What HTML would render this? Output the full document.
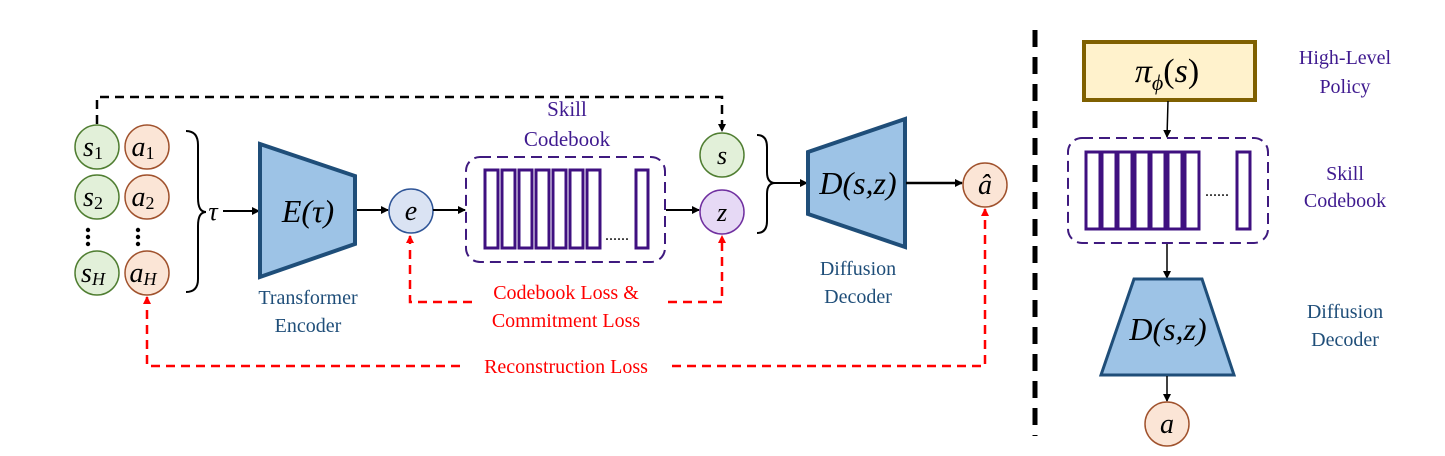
<!DOCTYPE html>
<html><head><meta charset="utf-8"><style>
body{margin:0;background:#fff}
svg text{font-family:"Liberation Serif",serif}
</style></head><body>
<svg width="1445" height="451" viewBox="0 0 1445 451" xmlns="http://www.w3.org/2000/svg">
<defs>
<marker id="ak" markerWidth="8" markerHeight="8" refX="7" refY="4" orient="auto" markerUnits="userSpaceOnUse"><path d="M0,0 L8,4 L0,8 z" fill="#000"/></marker>
<marker id="ar" markerWidth="8" markerHeight="8" refX="7" refY="4" orient="auto" markerUnits="userSpaceOnUse"><path d="M0,0 L8,4 L0,8 z" fill="#f00"/></marker>
</defs>
<!-- left circles -->
<g stroke-width="1.5">
<circle cx="97" cy="147" r="22" fill="#e2f0d9" stroke="#507e32"/>
<circle cx="147" cy="147" r="22" fill="#fbe5d6" stroke="#a0522d"/>
<circle cx="97" cy="197" r="22" fill="#e2f0d9" stroke="#507e32"/>
<circle cx="147" cy="197" r="22" fill="#fbe5d6" stroke="#a0522d"/>
<circle cx="97" cy="273" r="22" fill="#e2f0d9" stroke="#507e32"/>
<circle cx="147" cy="273" r="22" fill="#fbe5d6" stroke="#a0522d"/>
</g>
<g font-style="italic" font-size="28" text-anchor="middle">
<text x="93" y="156">s<tspan font-size="18" font-style="normal" dy="3">1</tspan></text>
<text x="143" y="156">a<tspan font-size="18" font-style="normal" dy="3">1</tspan></text>
<text x="93" y="206">s<tspan font-size="18" font-style="normal" dy="3">2</tspan></text>
<text x="143" y="206">a<tspan font-size="18" font-style="normal" dy="3">2</tspan></text>
<text x="93" y="282">s<tspan font-size="18" dy="3">H</tspan></text>
<text x="143" y="282">a<tspan font-size="18" dy="3">H</tspan></text>
</g>
<g fill="#000"><circle cx="88" cy="230" r="2.2"/><circle cx="88" cy="237" r="2.2"/><circle cx="88" cy="244" r="2.2"/>
<circle cx="138" cy="230" r="2.2"/><circle cx="138" cy="237" r="2.2"/><circle cx="138" cy="244" r="2.2"/></g>
<!-- brace -->
<path d="M186,131 Q198,131 198,145 L198,198 Q198,212 206,212 Q198,212 198,226 L198,279 Q198,292 186,292" fill="none" stroke="#000" stroke-width="2"/>
<text x="213" y="220" font-size="26" font-style="italic" text-anchor="middle">τ</text>
<line x1="223" y1="211" x2="259" y2="211" stroke="#000" stroke-width="2" marker-end="url(#ak)"/>
<!-- encoder -->
<polygon points="260,144 355,176 355,244 260,277" fill="#9dc3e6" stroke="#1f4e79" stroke-width="4"/>
<text x="308" y="222" font-size="32" font-style="italic" text-anchor="middle">E(τ)</text>
<text x="308" y="304" font-size="20" fill="#1f4e79" text-anchor="middle">Transformer</text>
<text x="308" y="332" font-size="20" fill="#1f4e79" text-anchor="middle">Encoder</text>
<line x1="357" y1="210" x2="388" y2="210" stroke="#000" stroke-width="2" marker-end="url(#ak)"/>
<circle cx="411" cy="211" r="22" fill="#dae3f3" stroke="#2f5597" stroke-width="1.5"/>
<text x="411" y="220" font-size="28" font-style="italic" text-anchor="middle">e</text>
<line x1="433" y1="210" x2="465" y2="210" stroke="#000" stroke-width="2" marker-end="url(#ak)"/>
<!-- codebook -->
<rect x="466" y="157" width="199" height="105" rx="14" fill="none" stroke="#3f1a7f" stroke-width="2" stroke-dasharray="11,6"/>
<g fill="none" stroke="#3f1080" stroke-width="3">
<rect x="485" y="170" width="13" height="78"/><rect x="502" y="170" width="13" height="78"/><rect x="519" y="170" width="13" height="78"/><rect x="536" y="170" width="13" height="78"/><rect x="553" y="170" width="13" height="78"/><rect x="570" y="170" width="13" height="78"/><rect x="587" y="170" width="13" height="78"/><rect x="636" y="170" width="12" height="78"/>
</g>
<text x="617" y="240" font-size="16" text-anchor="middle">......</text>
<text x="567" y="116" font-size="21" fill="#3f1a8f" text-anchor="middle">Skill</text>
<text x="567" y="146" font-size="21" fill="#3f1a8f" text-anchor="middle">Codebook</text>
<line x1="666" y1="210" x2="699" y2="210" stroke="#000" stroke-width="2" marker-end="url(#ak)"/>
<circle cx="722" cy="155" r="22" fill="#e2f0d9" stroke="#507e32" stroke-width="1.5"/>
<text x="722" y="164" font-size="26" font-style="italic" text-anchor="middle">s</text>
<circle cx="722" cy="212" r="22" fill="#e6d9f5" stroke="#7030a0" stroke-width="1.5"/>
<text x="722" y="221" font-size="26" font-style="italic" text-anchor="middle">z</text>
<path d="M757,135 Q767,135 767,147 L767,172 Q767,183 775,183 Q767,183 767,194 L767,221 Q767,233 757,233" fill="none" stroke="#000" stroke-width="2"/>
<line x1="775" y1="183" x2="807" y2="183" stroke="#000" stroke-width="2" marker-end="url(#ak)"/>
<!-- decoder -->
<polygon points="808,152 905,119 905,247 808,214" fill="#9dc3e6" stroke="#1f4e79" stroke-width="4"/>
<text x="858" y="194" font-size="32" font-style="italic" text-anchor="middle">D(s,z)</text>
<text x="858" y="275" font-size="20" fill="#1f4e79" text-anchor="middle">Diffusion</text>
<text x="858" y="303" font-size="20" fill="#1f4e79" text-anchor="middle">Decoder</text>
<line x1="906" y1="183" x2="962" y2="183" stroke="#000" stroke-width="2.5" marker-end="url(#ak)"/>
<circle cx="985" cy="185" r="22" fill="#fbe5d6" stroke="#a0522d" stroke-width="1.5"/>
<text x="985" y="194" font-size="28" font-style="italic" text-anchor="middle">â</text>
<!-- dashed black -->
<path d="M97,124 L97,97 L722,97 L722,131" fill="none" stroke="#000" stroke-width="2.5" stroke-dasharray="9,6" marker-end="url(#ak)"/>
<!-- red dashed -->
<path d="M472,302 L410,302 L410,236" fill="none" stroke="#f00" stroke-width="2.5" stroke-dasharray="9,6" marker-end="url(#ar)"/>
<path d="M668,302 L722,302 L722,236" fill="none" stroke="#f00" stroke-width="2.5" stroke-dasharray="9,6" marker-end="url(#ar)"/>
<text x="566" y="299" font-size="20" fill="#f00" text-anchor="middle">Codebook Loss &amp;</text>
<text x="566" y="327" font-size="20" fill="#f00" text-anchor="middle">Commitment Loss</text>
<path d="M460,366 L147,366 L147,297" fill="none" stroke="#f00" stroke-width="2.5" stroke-dasharray="9,6" marker-end="url(#ar)"/>
<path d="M672,366 L985,366 L985,209" fill="none" stroke="#f00" stroke-width="2.5" stroke-dasharray="9,6" marker-end="url(#ar)"/>
<text x="566" y="373" font-size="20" fill="#f00" text-anchor="middle">Reconstruction Loss</text>
<!-- separator -->
<line x1="1035" y1="30" x2="1035" y2="436" stroke="#000" stroke-width="5" stroke-dasharray="17,10"/>
<!-- right -->
<rect x="1084" y="42" width="171" height="58" fill="#fff2cc" stroke="#7f6000" stroke-width="4"/>
<text x="1167" y="82" font-size="34" font-style="italic" text-anchor="middle">π<tspan font-size="22" dy="8">ϕ</tspan><tspan dy="-8" font-style="normal">(</tspan>s<tspan font-style="normal">)</tspan></text>
<text x="1345" y="64" font-size="20" fill="#3f1a8f" text-anchor="middle">High-Level</text>
<text x="1345" y="93" font-size="20" fill="#3f1a8f" text-anchor="middle">Policy</text>
<line x1="1168" y1="101" x2="1167" y2="137" stroke="#000" stroke-width="1.5" marker-end="url(#ak)"/>
<rect x="1068" y="138" width="200" height="105" rx="14" fill="none" stroke="#3f1a7f" stroke-width="2" stroke-dasharray="11,6"/>
<g fill="none" stroke="#3f1080" stroke-width="3">
<rect x="1086" y="152" width="14" height="77"/><rect x="1102" y="152" width="14" height="77"/><rect x="1118" y="152" width="14" height="77"/><rect x="1135" y="152" width="14" height="77"/><rect x="1151" y="152" width="14" height="77"/><rect x="1168" y="152" width="14" height="77"/><rect x="1185" y="152" width="14" height="77"/><rect x="1237" y="152" width="13" height="77"/>
</g>
<text x="1217" y="196" font-size="16" text-anchor="middle">......</text>
<text x="1345" y="180" font-size="20" fill="#3f1a8f" text-anchor="middle">Skill</text>
<text x="1345" y="207" font-size="20" fill="#3f1a8f" text-anchor="middle">Codebook</text>
<line x1="1167" y1="244" x2="1167" y2="278" stroke="#000" stroke-width="1.5" marker-end="url(#ak)"/>
<polygon points="1134,279 1202,279 1234,375 1101,375" fill="#9dc3e6" stroke="#1f4e79" stroke-width="3"/>
<text x="1168" y="340" font-size="32" font-style="italic" text-anchor="middle">D(s,z)</text>
<text x="1345" y="318" font-size="20" fill="#1f4e79" text-anchor="middle">Diffusion</text>
<text x="1345" y="346" font-size="20" fill="#1f4e79" text-anchor="middle">Decoder</text>
<line x1="1167" y1="376" x2="1167" y2="401" stroke="#000" stroke-width="1.5" marker-end="url(#ak)"/>
<circle cx="1167" cy="424" r="22" fill="#fbe5d6" stroke="#a0522d" stroke-width="1.5"/>
<text x="1167" y="433" font-size="28" font-style="italic" text-anchor="middle">a</text>
</svg>
</body></html>
